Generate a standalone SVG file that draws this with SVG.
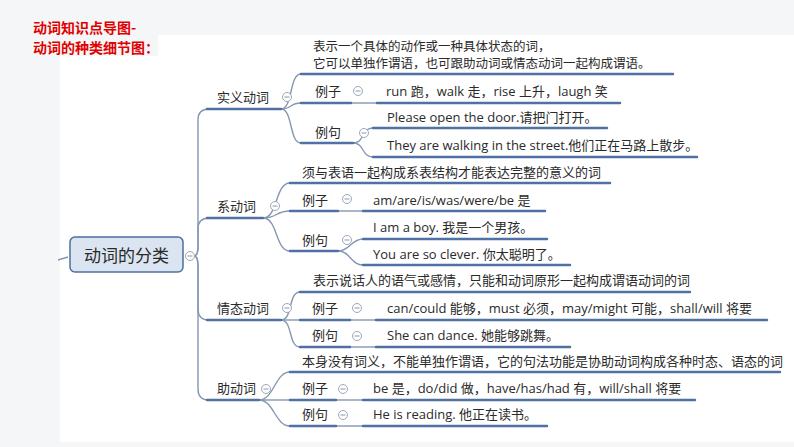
<svg xmlns="http://www.w3.org/2000/svg" width="794" height="447" viewBox="0 0 794 447">
<style>
.t{font-family:"Open Sans","Noto Sans CJK SC",sans-serif;font-size:13px;fill:#2a2a2a}
.title{font-family:"Noto Sans CJK SC",sans-serif;font-size:14px;fill:#e00000;font-weight:bold}
.ul{stroke:#4f71a3;stroke-width:2.5;fill:none;stroke-linecap:round}
.cn{stroke:#8597b0;stroke-width:1.4;fill:none}
.cc{fill:#fff;stroke:#9aa8ba;stroke-width:1}
.cm{stroke:#8a98aa;stroke-width:1}
</style>
<defs>
<g id="col"><circle class="cc" r="4.5"/><line class="cm" x1="-2.5" y1="0" x2="2.5" y2="0"/></g>
</defs>
<rect x="0" y="0" width="794" height="447" fill="#f5f6f8"/>
<rect x="60" y="35" width="734" height="407" fill="#ffffff"/>
<rect x="0" y="0" width="158" height="56" fill="#f5f6f8"/>
<g id="title">
<text class="title" x="33" y="33">动词知识点导图-</text>
<text class="title" x="33" y="53">动词的种类细节图：</text>
</g>

<g id="connectors">
<path class="cn" d="M58,260 L68,257"/>
<path class="cn" d="M194,256 Q198,256 198,246 V120 Q198,109 209,109"/>
<path class="cn" d="M194,256 Q198,256 198,246 V229 Q198,218 209,218"/>
<path class="cn" d="M194,256 Q198,256 198,266 V309 Q198,320 209,320"/>
<path class="cn" d="M194,256 Q198,256 198,266 V389 Q198,400 209,400"/>
<path class="cn" d="M281,109 C293,109 289,74 301,74"/>
<path class="cn" d="M281,109 C293,109 289,103 301,103"/>
<path class="cn" d="M281,109 C293,109 289,143 301,143"/>
<path class="cn" d="M351,103 H377"/>
<path class="cn" d="M353,143 C365,143 361,128 373,128"/>
<path class="cn" d="M353,143 C365,143 361,157 373,157"/>
<path class="cn" d="M263,218 C278,218 275,183 290,183"/>
<path class="cn" d="M263,218 C278,218 275,211 290,211"/>
<path class="cn" d="M263,218 C278,218 275,251 290,251"/>
<path class="cn" d="M338,211 H363"/>
<path class="cn" d="M338,251 C350,251 351,239 363,239"/>
<path class="cn" d="M338,251 C350,251 351,265 363,265"/>
<path class="cn" d="M281,320 C293,320 288,292 300,292"/>
<path class="cn" d="M281,320 H300"/>
<path class="cn" d="M281,320 C293,320 288,347 300,347"/>
<path class="cn" d="M350,320 H376"/>
<path class="cn" d="M350,347 H376"/>
<path class="cn" d="M259,400 C274,400 275,372 290,372"/>
<path class="cn" d="M259,400 H290"/>
<path class="cn" d="M259,400 C274,400 275,426 290,426"/>
<path class="cn" d="M336,400 H363"/>
<path class="cn" d="M336,426 H363"/>
</g>

<g id="root">
<rect x="70" y="237" width="113" height="35" rx="5" fill="#dbe5f1" stroke="#4f6f9a" stroke-width="1.5"/>
<text class="t" x="126.5" y="262" text-anchor="middle" style="font-size:17px">动词的分类</text>
<use href="#col" x="190" y="256"/>
</g>

<g id="n-shiyi">
<text class="t" x="217" y="102">实义动词</text>
<path class="ul" d="M207,109 H281"/>
<use href="#col" x="287" y="97"/>
</g>
<g id="n-shiyi-desc">
<text class="t" x="313" y="51" style="font-size:12.5px">表示一个具体的动作或一种具体状态的词，</text>
<text class="t" x="313" y="68" style="font-size:12.5px">它可以单独作谓语，也可跟助动词或情态动词一起构成谓语。</text>
<path class="ul" d="M301,74 H673"/>
</g>
<g id="n-shiyi-lizi">
<text class="t" x="315" y="96">例子</text>
<path class="ul" d="M301,103 H351"/>
<use href="#col" x="358" y="91"/>
</g>
<g id="n-shiyi-lizi-1">
<text class="t" x="386" y="96">run 跑，walk 走，rise 上升，laugh 笑</text>
<path class="ul" d="M377,103 H620"/>
</g>
<g id="n-shiyi-liju">
<text class="t" x="315" y="137">例句</text>
<path class="ul" d="M301,143 H353"/>
<use href="#col" x="364" y="133"/>
</g>
<g id="n-shiyi-liju-1">
<text class="t" x="387" y="122">Please open the door.请把门打开。</text>
<path class="ul" d="M373,128 H607"/>
</g>
<g id="n-shiyi-liju-2">
<text class="t" x="387" y="150">They are walking in the street.他们正在马路上散步。</text>
<path class="ul" d="M373,157 H697"/>
</g>

<g id="n-xi">
<text class="t" x="217" y="211">系动词</text>
<path class="ul" d="M207,218 H263"/>
<use href="#col" x="275" y="206"/>
</g>
<g id="n-xi-desc">
<text class="t" x="302" y="177">须与表语一起构成系表结构才能表达完整的意义的词</text>
<path class="ul" d="M290,183 H610"/>
</g>
<g id="n-xi-lizi">
<text class="t" x="302" y="205">例子</text>
<path class="ul" d="M290,211 H338"/>
<use href="#col" x="347" y="199"/>
</g>
<g id="n-xi-lizi-1">
<text class="t" x="373" y="205">am/are/is/was/were/be 是</text>
<path class="ul" d="M363,211 H545"/>
</g>
<g id="n-xi-liju">
<text class="t" x="302" y="245">例句</text>
<path class="ul" d="M290,251 H338"/>
<use href="#col" x="347" y="240"/>
</g>
<g id="n-xi-liju-1">
<text class="t" x="373" y="232">I am a boy. 我是一个男孩。</text>
<path class="ul" d="M363,239 H547"/>
</g>
<g id="n-xi-liju-2">
<text class="t" x="373" y="259">You are so clever. 你太聪明了。</text>
<path class="ul" d="M363,265 H570"/>
</g>

<g id="n-qingtai">
<text class="t" x="217" y="313">情态动词</text>
<path class="ul" d="M207,320 H281"/>
<use href="#col" x="287" y="308"/>
</g>
<g id="n-qingtai-desc">
<text class="t" x="313" y="285">表示说话人的语气或感情，只能和动词原形一起构成谓语动词的词</text>
<path class="ul" d="M300,292 H690"/>
</g>
<g id="n-qingtai-lizi">
<text class="t" x="312" y="313">例子</text>
<path class="ul" d="M300,320 H350"/>
<use href="#col" x="357" y="308"/>
</g>
<g id="n-qingtai-lizi-1">
<text class="t" x="387" y="313">can/could 能够，must 必须，may/might 可能，shall/will 将要</text>
<path class="ul" d="M376,320 H767"/>
</g>
<g id="n-qingtai-liju">
<text class="t" x="312" y="340">例句</text>
<path class="ul" d="M300,347 H350"/>
<use href="#col" x="357" y="336"/>
</g>
<g id="n-qingtai-liju-1">
<text class="t" x="387" y="340">She can dance. 她能够跳舞。</text>
<path class="ul" d="M376,347 H570"/>
</g>

<g id="n-zhu">
<text class="t" x="217" y="393">助动词</text>
<path class="ul" d="M207,400 H259"/>
<use href="#col" x="266" y="389"/>
</g>
<g id="n-zhu-desc">
<text class="t" x="302" y="366">本身没有词义，不能单独作谓语，它的句法功能是协助动词构成各种时态、语态的词</text>
<path class="ul" d="M290,372 H780"/>
</g>
<g id="n-zhu-lizi">
<text class="t" x="302" y="393">例子</text>
<path class="ul" d="M290,400 H336"/>
<use href="#col" x="343" y="389"/>
</g>
<g id="n-zhu-lizi-1">
<text class="t" x="373" y="393">be 是，do/did 做，have/has/had 有，will/shall 将要</text>
<path class="ul" d="M363,400 H695"/>
</g>
<g id="n-zhu-liju">
<text class="t" x="302" y="419">例句</text>
<path class="ul" d="M290,426 H336"/>
<use href="#col" x="343" y="415"/>
</g>
<g id="n-zhu-liju-1">
<text class="t" x="373" y="419">He is reading. 他正在读书。</text>
<path class="ul" d="M363,426 H547"/>
</g>
</svg>
